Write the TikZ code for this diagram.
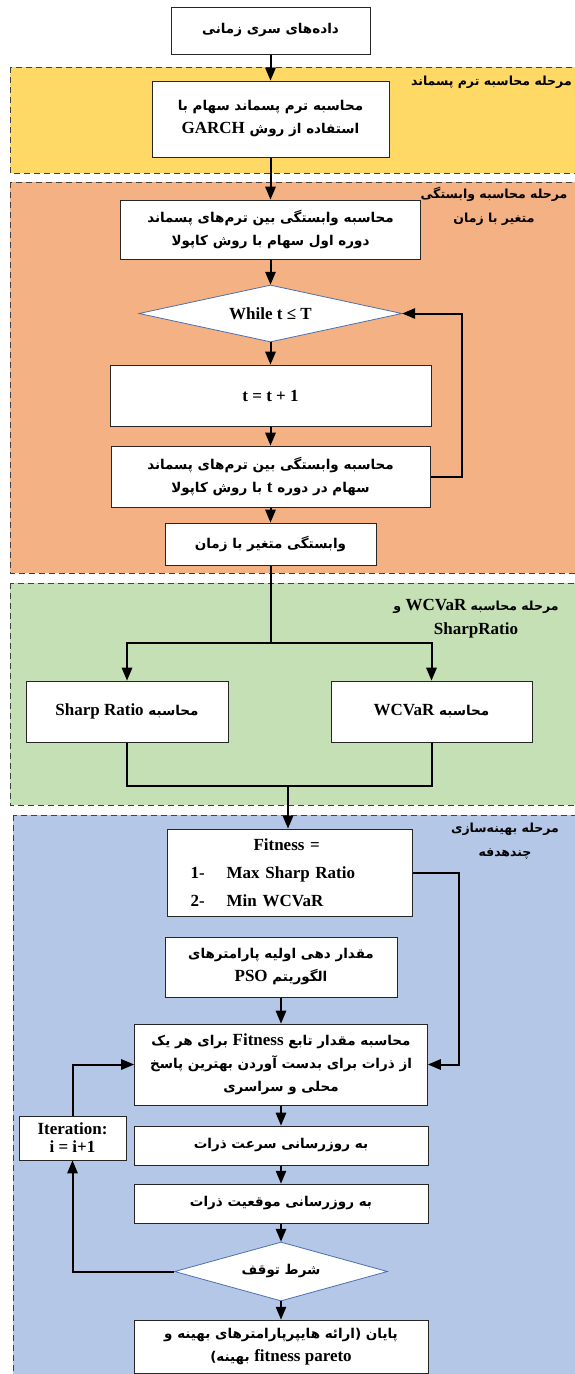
\documentclass[tikz,border=0pt]{standalone}
\usepackage{fontspec}
\setmainfont{Liberation Serif}
\newfontfamily\arabicfont[Script=Arabic]{DejaVu Sans}
\TeXXeTstate=1
\usetikzlibrary{arrows,shapes.geometric,calc}

\definecolor{stageyellow}{HTML}{FFD966}
\definecolor{stageorange}{HTML}{F4B183}
\definecolor{stagegreen}{HTML}{C5E0B4}
\definecolor{stageblue}{HTML}{B4C7E7}
\definecolor{condblue}{HTML}{4A6FAE}

\newcommand{\fa}[1]{\beginR #1\endR}
\newcommand{\lat}[1]{\beginL{\rmfamily\bfseries\fontsize{17}{22}\selectfont #1}\endL}
\newcommand{\boxfont}{\arabicfont\bfseries\fontsize{13.5}{23}\selectfont}
\newcommand{\labelfont}{\arabicfont\bfseries\fontsize{12.5}{24}\selectfont}

\begin{document}
\begin{tikzpicture}[x=1pt,y=-1pt]
\tikzstyle{stage} = [draw=black!75, line width=1pt, dash pattern=on 6pt off 4pt]
\tikzstyle{box} = [draw=black!85, line width=1pt, fill=white, inner sep=2pt, align=center, font=\boxfont]
\tikzstyle{cond} = [diamond, draw=condblue, line width=0.8pt, fill=white, inner sep=0pt, font=\boxfont]
\tikzstyle{stagelabel} = [align=center, font=\labelfont, inner sep=0pt]
\tikzstyle{flow} = [line width=2pt, -triangle 45]
\tikzstyle{link} = [line width=2pt]

\useasboundingbox (0,0) rectangle (575,1374);
\clip (0,0) rectangle (575,1374);
\fill[white] (0,0) rectangle (575,1374);

% stages
\draw[stage, fill=stageyellow] (10,67) rectangle (590,173);
\draw[stage, fill=stageorange] (10,182) rectangle (590,573);
\draw[stage, fill=stagegreen] (10,583) rectangle (590,805);
\draw[stage, fill=stageblue] (13,815) rectangle (590,1400);

\node[stagelabel, anchor=east] (lyellow) at (572,82) {\fa{مرحله محاسبه ترم پسماند}};
\node[stagelabel] (lorange) at (494,206) {\fa{مرحله محاسبه وابستگی}\\\fa{متغیر با زمان}};
\node[stagelabel] (lgreen) at (476,619) {\fa{مرحله محاسبه \lat{WCVaR} و}\\\lat{SharpRatio}};
\node[stagelabel] (lblue) at (505,841) {\fa{مرحله بهینه‌سازی}\\\fa{چندهدفه}};

% upper column
\node[box, minimum width=199pt, minimum height=47pt] (start) at (270.5,30.5) {\fa{داده‌های سری زمانی}};
\node[box, minimum width=237pt, minimum height=76pt] (garch) at (270.5,119) {\fa{محاسبه ترم پسماند سهام  با}\\\fa{استفاده از روش \lat{GARCH}}};
\node[box, minimum width=300pt, minimum height=59pt] (dep1) at (270.5,229.5) {\fa{محاسبه وابستگی بین ترم‌های پسماند}\\\fa{دوره اول سهام با روش کاپولا}};
\node[cond, aspect=4.6, minimum width=263pt, minimum height=57pt] (while) at (270.5,313.5) {\lat{While t ≤ T}};
\node[box, minimum width=321pt, minimum height=61pt] (inc) at (270.5,395.5) {\lat{t = t + 1}};
\node[box, minimum width=319pt, minimum height=61pt] (dept) at (270.5,476.5) {\fa{محاسبه وابستگی بین ترم‌های پسماند}\\\fa{سهام در دوره \lat{t} با روش کاپولا}};
\node[box, minimum width=211pt, minimum height=42pt] (varying) at (270.5,544) {\fa{وابستگی متغیر با زمان}};

% risk measures
\node[box, minimum width=202pt, minimum height=61pt] (sharp) at (127,711.5) {\fa{محاسبه \lat{Sharp Ratio}}};
\node[box, minimum width=201pt, minimum height=61pt] (wcvar) at (431.5,711.5) {\fa{محاسبه \lat{WCVaR}}};

% PSO column
\node[box, anchor=west, minimum height=87pt, text width=199pt, inner xsep=23pt, align=left,
      font=\rmfamily\bfseries\fontsize{17}{28}\selectfont] (fit) at (167,872.5)
      {\hspace*{63pt}Fitness =\\1-\hspace{22pt}Max Sharp Ratio\\2-\hspace{22pt}Min WCVaR};
\node[box, minimum width=232pt, minimum height=60pt] (pso) at (281,967) {\fa{مقدار دهی اولیه پارامترهای}\\\fa{الگوریتم \lat{PSO}}};
\node[box, minimum width=293pt, minimum height=81pt] (fitcalc) at (281,1064.5) {\fa{محاسبه مقدار تابع \lat{Fitness} برای هر یک}\\\fa{از ذرات برای بدست آوردن بهترین پاسخ}\\\fa{محلی و سراسری}};
\node[box, minimum width=294pt, minimum height=39pt] (vel) at (281,1145.5) {\fa{به روزرسانی سرعت ذرات}};
\node[box, minimum width=294pt, minimum height=39pt] (pos) at (281,1203.5) {\fa{به روزرسانی موقعیت ذرات}};
\node[cond, aspect=3.6, minimum width=213pt, minimum height=59pt] (stop) at (281,1271.5) {\fa{شرط توقف}};
\node[box, minimum width=294pt, minimum height=53pt] (endb) at (281,1346.5) {\fa{پایان (ارائه هایپرپارامترهای بهینه و}\\\fa{\lat{fitness pareto} بهینه)}};
\node[box, minimum width=107pt, minimum height=44pt, font=\rmfamily\bfseries\fontsize{17}{18}\selectfont] (iter) at (72.5,1138) {Iteration:\\i = i+1};

\coordinate (split) at (270.5,643);
\coordinate (merge) at (288,786);

\draw[flow] (start) -- (garch);
\draw[flow] (garch) -- (dep1);
\draw[flow] (dep1) -- (while);
\draw[flow] (while) -- (inc);
\draw[flow] (inc) -- (dept);
\draw[flow] (dept) -- (varying);
\draw[flow] (dept.east) -- ++(31,0) |- (while.east);
\draw[link] (varying) -- (split);
\draw[flow] (split) -| (sharp);
\draw[flow] (split) -| (wcvar);
\draw[link] (sharp) |- (merge);
\draw[link] (wcvar) |- (merge);
\draw[flow] (merge) -- (merge |- fit.north);
\draw[flow] (fit.east) -- ++(46,0) |- (fitcalc.east);
\draw[flow] (pso) -- (fitcalc);
\draw[flow] (fitcalc) -- (vel);
\draw[flow] (vel) -- (pos);
\draw[flow] (pos) -- (stop);
\draw[flow] (stop) -- (endb);
\draw[flow] (stop.west) -| (iter.south);
\draw[flow] (iter.north) |- (fitcalc.west);
\end{tikzpicture}
\end{document}
